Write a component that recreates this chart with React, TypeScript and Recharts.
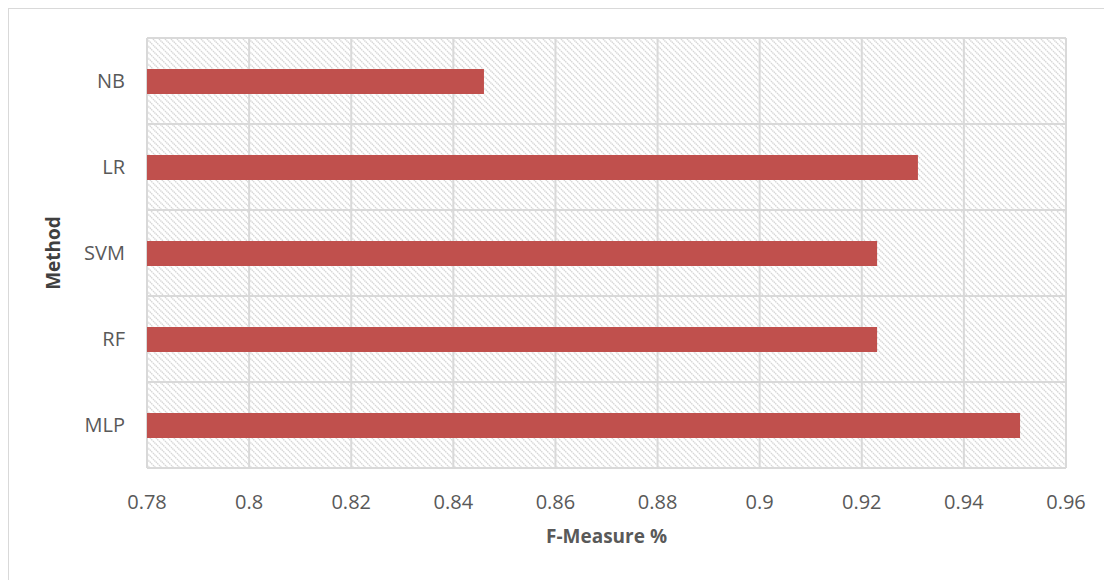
import { Bar, BarChart, CartesianGrid, XAxis, YAxis } from "recharts";

// F-measure per classifier, listed top to bottom
const methods = ["NB", "LR", "SVM", "RF", "MLP"];
const fMeasure = [0.846, 0.931, 0.923, 0.923, 0.951];
const xTicks = [0.78, 0.8, 0.82, 0.84, 0.86, 0.88, 0.9, 0.92, 0.94, 0.96];

const data = methods.map((name, i) => ({ name, value: fMeasure[i] }));

const FONT = "'Open Sans', 'Noto Sans', 'Liberation Sans', sans-serif";
const GRID = "#d9d9d9";
const TEXT = "#595959";

export default function App() {
  return (
    <div
      style={{
        width: 1104,
        height: 572,
        borderTop: `1px solid ${GRID}`,
        borderLeft: `1px solid ${GRID}`,
        fontFamily: FONT,
        background: "#fff",
      }}
    >
      {/* hatch used as the plot background */}
      <svg width={0} height={0} style={{ position: "absolute" }}>
        <defs>
          <pattern id="hatch" width={6} height={6} patternUnits="userSpaceOnUse">
            <rect width={6} height={6} fill="#fff" />
            <path
              d="M0,0 L6,6 M-1,5 L1,7 M5,-1 L7,1"
              stroke="#d6d6d6"
              strokeWidth={1.4}
              strokeDasharray="1.4 0.6"
            />
          </pattern>
        </defs>
      </svg>
      <BarChart
        width={1103}
        height={571}
        data={data}
        layout="vertical"
        margin={{ top: 29, right: 46, left: 0, bottom: 37 }}
      >
        <CartesianGrid
          stroke={GRID}
          strokeWidth={2}
          fill="url(#hatch)"
          horizontalCoordinatesGenerator={({ offset }: any) =>
            [0, 1, 2, 3, 4, 5].map((i) => offset.top + (i * offset.height) / 5)
          }
        />
        <XAxis
          type="number"
          domain={[0.78, 0.96]}
          ticks={xTicks}
          interval={0}
          axisLine={false}
          tickLine={false}
          tickSize={6}
          tickMargin={21}
          height={75}
          tick={{ fill: TEXT, fontSize: 20, fontFamily: FONT }}
          label={{
            value: "F-Measure %",
            position: "insideBottom",
            offset: 0,
            fill: TEXT,
            fontSize: 19,
            fontWeight: 700,
            fontFamily: FONT,
          }}
        />
        <YAxis
          type="category"
          dataKey="name"
          width={138}
          axisLine={false}
          tickLine={false}
          tickSize={0}
          tickMargin={22}
          tick={{ fill: TEXT, fontSize: 20, fontFamily: FONT }}
          label={{
            value: "Method",
            angle: -90,
            position: "insideLeft",
            offset: 44,
            fill: "#404040",
            fontSize: 19,
            fontWeight: 700,
            fontFamily: FONT,
            style: { textAnchor: "middle" },
          }}
        />
        <Bar dataKey="value" fill="#c0504d" barSize={25} isAnimationActive={false} />
      </BarChart>
    </div>
  );
}
